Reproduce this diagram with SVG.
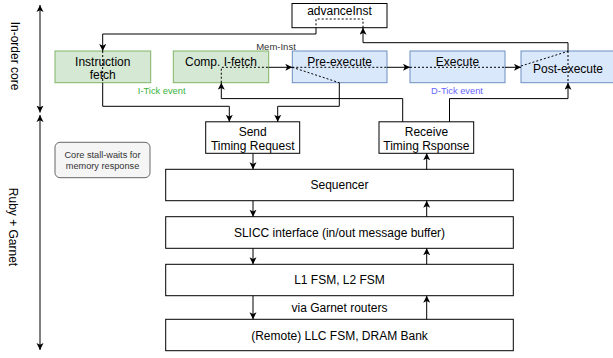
<svg xmlns="http://www.w3.org/2000/svg" width="613" height="358" viewBox="0 0 613 358">
<style>
text{font-family:"Liberation Sans",Arial,sans-serif;font-size:12px;fill:#000;text-anchor:middle}
.g{fill:#d5e8d4;stroke:#82b366;stroke-width:1}
.b{fill:#dae8fc;stroke:#6c8ebf;stroke-width:1}
.w{fill:#fff;stroke:#000;stroke-width:1}
.c path,.c line{fill:none;stroke:#000;stroke-width:1}
.c .d{stroke-dasharray:2 2}
.a{marker-end:url(#ah)}
.sm{font-size:9.5px;fill:#333}
</style>
<defs>
<marker id="ah" markerUnits="userSpaceOnUse" markerWidth="9" markerHeight="8" refX="7" refY="3.5" orient="auto">
<path d="M0,0 L7,3.5 L0,7 L1.8,3.5 Z" fill="#000"/>
</marker>
<marker id="as" markerUnits="userSpaceOnUse" markerWidth="9" markerHeight="8" refX="1" refY="3.5" orient="auto">
<path d="M8,0 L1,3.5 L8,7 L6.2,3.5 Z" fill="#000"/>
</marker>
</defs>

<g id="side-labels">
<text transform="translate(15,56) rotate(90)" dy="4">In-order core</text>
<text transform="translate(13,227) rotate(90)" dy="4">Ruby + Garnet</text>
</g>

<g id="adv"><rect class="w" x="292" y="3.5" width="95" height="24.2"/><text x="339.5" y="15">advanceInst</text></g>
<g id="ifetch"><rect class="g" x="55" y="51" width="95.7" height="31.7"/><text x="102.8" y="65.5">Instruction</text><text x="102.8" y="79">fetch</text></g>
<g id="compifetch"><rect class="g" x="173.3" y="51" width="95.4" height="31.7"/><text x="221" y="65.5">Comp. I-fetch</text></g>
<g id="preexec"><rect class="b" x="292.3" y="51" width="94.7" height="31.7"/><text x="339.6" y="65.5">Pre-execute</text></g>
<g id="exec"><rect class="b" x="410" y="51" width="95" height="31.7"/><text x="457.5" y="65.5">Execute</text></g>
<g id="postexec"><rect class="b" x="521" y="51" width="95" height="31.7"/><text x="568" y="72.5">Post-execute</text></g>

<g id="stall"><rect x="55" y="142.3" width="95" height="35.4" rx="5" ry="5" fill="#f5f5f5" stroke="#666666"/><text x="102.5" y="158.2" style="font-size:9.2px;fill:#333">Core stall-waits for</text><text x="102.5" y="169.3" style="font-size:9.2px;fill:#333">memory response</text></g>

<g id="send"><rect class="w" x="205.7" y="121.8" width="94" height="31.5"/><text x="252.7" y="136.3">Send</text><text x="252.7" y="150">Timing Request</text></g>
<g id="recv"><rect class="w" x="379" y="121.8" width="94.7" height="31.5"/><text x="426.4" y="136.3">Receive</text><text x="426.4" y="150">Timing Rsponse</text></g>
<g id="seq"><rect class="w" x="165.7" y="169.3" width="347.6" height="31.4"/><text x="339.5" y="189.3">Sequencer</text></g>
<g id="slicc"><rect class="w" x="165.7" y="216.7" width="347.6" height="31.6"/><text x="339.5" y="236.8">SLICC interface (in/out message buffer)</text></g>
<g id="l1l2"><rect class="w" x="165.7" y="264.3" width="347.6" height="31.4"/><text x="339.5" y="284.3">L1 FSM, L2 FSM</text></g>
<g id="llc"><rect class="w" x="165.7" y="319.3" width="347.6" height="31.4"/><text x="339.5" y="339.5">(Remote) LLC FSM, DRAM Bank</text></g>

<g id="labels">
<text class="sm" x="276" y="50">Mem-Inst</text>
<text x="161.7" y="94" style="font-size:9.3px;fill:#3bb33b">I-Tick event</text>
<text x="457" y="94" style="font-size:9.3px;fill:#6666ff">D-Tick event</text>
<text x="339.5" y="311.5">via Garnet routers</text>
</g>

<g id="connectors" class="c">
<line x1="40" y1="5" x2="40" y2="112.5" marker-start="url(#as)" marker-end="url(#ah)"/>
<line x1="40" y1="115" x2="40" y2="350" marker-start="url(#as)" marker-end="url(#ah)"/>
<!-- advanceInst to instruction fetch -->
<path class="d" d="M363,27.7 V19 H316 V27.7"/>
<path class="a" d="M316,27.7 V34 H102.7 V51"/>
<path class="d" d="M102.7,51 V82.7"/>
<path class="a" d="M102.7,82.7 V106.3 H229.3 V121.8"/>
<!-- comp i-fetch -->
<path class="a" d="M402.7,121.8 V98.6 H221.3 V82.7"/>
<path class="d" d="M221.3,82.7 V67.3 H268.7"/>
<path class="a" d="M268.7,67.3 H292.3"/>
<!-- pre-execute -->
<path class="d" d="M292.3,67.3 H387"/>
<path class="d" d="M292.3,67.3 L339.3,82.7"/>
<path class="a" d="M387,67.3 H410"/>
<path class="a" d="M339.3,82.7 V106.3 H277.7 V121.8"/>
<!-- execute -->
<path class="d" d="M410,67.3 H505"/>
<path class="a" d="M505,67.3 H521"/>
<!-- post-execute -->
<path class="d" d="M521,66 L568,51.3"/>
<path class="d" d="M568,51 V82.7"/>
<path class="a" d="M449.5,121.8 V98.6 H568 V82.7"/>
<path class="a" d="M568,51 V42.7 H363 V27.7"/>
<!-- memory stack -->
<path class="a" d="M253,153.3 V169.3"/>
<path class="a" d="M426.7,169.3 V153.3"/>
<path class="a" d="M253,200.7 V216.7"/>
<path class="a" d="M426.7,216.7 V200.7"/>
<path class="a" d="M253,248.3 V264.3"/>
<path class="a" d="M426.7,264.3 V248.3"/>
<path class="a" d="M253,295.7 V319.3"/>
<path class="a" d="M426.7,319.3 V295.7"/>
</g>
</svg>
